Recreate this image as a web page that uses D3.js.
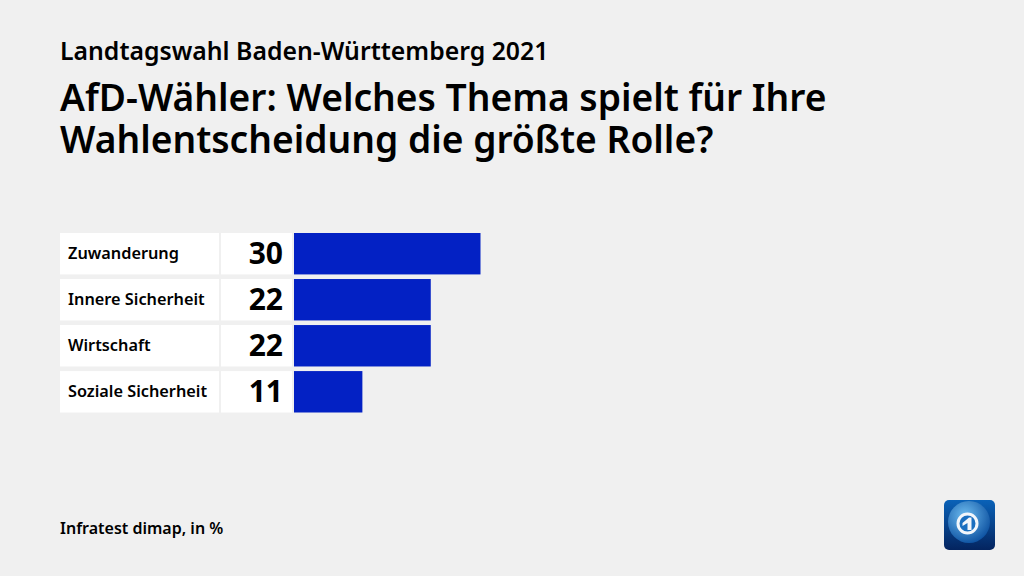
<!DOCTYPE html>
<html lang="de">
<head>
<meta charset="utf-8">
<title>Landtagswahl Baden-Württemberg 2021</title>
<script src="https://cdn.jsdelivr.net/npm/d3@7"></script>
<style>
    html, body { margin: 0; padding: 0; background: #f0f0f0; }
    svg { display: block; }
    text { font-family: "Noto Sans", sans-serif; fill: #000; }
</style>
</head>
<body>
<div id="chart"></div>
<script>
const categories = ['Zuwanderung', 'Innere Sicherheit', 'Wirtschaft', 'Soziale Sicherheit'];
const values = [30, 22, 22, 11];
const titleLines = ['AfD-Wähler: Welches Thema spielt für Ihre', 'Wahlentscheidung die größte Rolle?'];
const overline = 'Landtagswahl Baden-Württemberg 2021';
const source = 'Infratest dimap, in %';

const svg = d3.select('#chart').append('svg')
    .attr('width', 1024)
    .attr('height', 576);

// Kopfzeilen
svg.append('text').attr('x', 60).attr('y', 60)
    .style('font-size', '24.8px').style('font-weight', 600)
    .text(overline);

// Titel als ein Text mit zwei Zeilen
svg.append('text')
    .attr('class', 'titel')
    .style('font-size', '37.2px').style('font-weight', 600)
    .selectAll('tspan')
    .data(titleLines)
    .enter().append('tspan')
    .attr('x', 60)
    .attr('y', (d, i) => 111 + i * 41.5)
    .text(d => d);

// Skalen
const y = d3.scaleBand().domain(categories).range([233, 412.5]).paddingInner(0.1);
const x = d3.scaleLinear().domain([0, 30]).range([294, 480.5]);

const row = svg.selectAll('.row')
    .data(categories.map((name, i) => ({ name, value: values[i] })))
    .enter().append('g')
    .attr('class', 'row');

row.append('rect')
    .attr('x', 60).attr('width', 159)
    .attr('y', d => y(d.name)).attr('height', y.bandwidth())
    .attr('fill', '#fff');

row.append('rect')
    .attr('x', 221).attr('width', 71)
    .attr('y', d => y(d.name)).attr('height', y.bandwidth())
    .attr('fill', '#fff');

row.append('rect')
    .attr('x', x(0))
    .attr('y', d => y(d.name))
    .attr('width', d => x(d.value) - x(0))
    .attr('height', y.bandwidth())
    .attr('fill', '#0321c4');

row.append('text')
    .attr('x', 68)
    .attr('y', d => y(d.name) + y.bandwidth() / 2 + 5.5)
    .style('font-size', '16.3px').style('font-weight', 600)
    .text(d => d.name);

row.append('text')
    .attr('x', 283)
    .attr('y', d => y(d.name) + y.bandwidth() / 2 + 10.5)
    .attr('text-anchor', 'end')
    .style('font-size', '30px').style('font-weight', 700)
    .text(d => d.value);

// Quelle
svg.append('text').attr('x', 60).attr('y', 534)
    .style('font-size', '16px').style('font-weight', 600)
    .text(source);

// Logo
const defs = svg.append('defs');
const bg = defs.append('linearGradient').attr('id', 'logoBg')
    .attr('x1', 0).attr('y1', 0).attr('x2', 0).attr('y2', 1);
bg.append('stop').attr('offset', 0).attr('stop-color', '#0a62b8');
bg.append('stop').attr('offset', 1).attr('stop-color', '#04245f');
const globe = defs.append('radialGradient').attr('id', 'logoGlobe')
    .attr('cx', 0.4).attr('cy', 0.35).attr('r', 0.7);
globe.append('stop').attr('offset', 0).attr('stop-color', '#6dbcf0');
globe.append('stop').attr('offset', 1).attr('stop-color', '#0b4f9f');

const logo = svg.append('g').attr('transform', 'translate(944,500)');
logo.append('rect').attr('width', 51).attr('height', 50).attr('rx', 5).attr('fill', 'url(#logoBg)');
logo.append('circle').attr('cx', 25).attr('cy', 22).attr('r', 21).attr('fill', 'url(#logoGlobe)');
logo.append('circle').attr('cx', 23.5).attr('cy', 23.5).attr('r', 9.5)
    .attr('fill', '#1a6fc0').attr('stroke', '#f2f6fb').attr('stroke-width', 3);
logo.append('path').attr('d', 'M18.5 23 L25 17.5 L27.5 17.5 L27.5 30 L23.5 30 L23.5 23 L18.5 26 Z').attr('fill', '#f2f6fb');
</script>
</body>
</html>
